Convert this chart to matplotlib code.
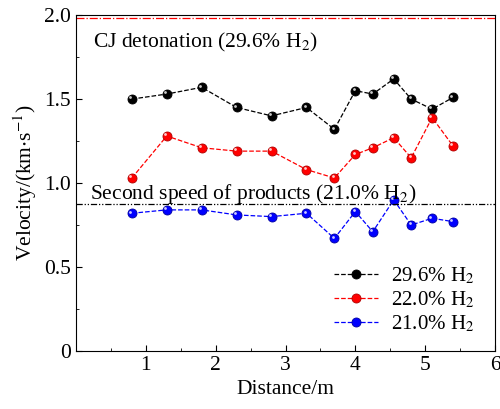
import matplotlib
matplotlib.use("Agg")
import matplotlib.pyplot as plt
from matplotlib.ticker import MultipleLocator
import matplotlib.transforms as mtransforms

plt.rcParams['font.family'] = 'Liberation Serif'
plt.rcParams['mathtext.fontset'] = 'stix'

distance = [0.8, 1.3, 1.8, 2.3, 2.8, 3.3, 3.7, 4.0, 4.25, 4.55, 4.8, 5.1, 5.4]
v_296 = [1.50, 1.53, 1.57, 1.45, 1.40, 1.45, 1.32, 1.55, 1.53, 1.62, 1.50, 1.44, 1.51]
v_220 = [1.03, 1.28, 1.21, 1.19, 1.19, 1.08, 1.03, 1.17, 1.21, 1.27, 1.15, 1.39, 1.22]
v_210 = [0.82, 0.84, 0.84, 0.81, 0.80, 0.82, 0.67, 0.83, 0.71, 0.90, 0.75, 0.79, 0.77]
cj_speed = 1.98
second_speed = 0.875

fig = plt.figure(figsize=(5, 4.09), dpi=100)
ax = fig.add_axes([0.152, 0.142, 0.838, 0.821])

series = [
    (v_296, 'black', '#000000', r'29.6% H$_2$'),
    (v_220, 'red', '#b00000', r'22.0% H$_2$'),
    (v_210, 'blue', '#0000a0', r'21.0% H$_2$'),
]
shine = mtransforms.offset_copy(ax.transData, fig=fig, x=-1.2, y=1.2, units='points')
for vals, col, edge, lab in series:
    ax.plot(distance, vals, '--', color=col, lw=0.9, marker='o', ms=6.5,
            mfc=col, mec=edge, mew=0.6, label=lab)
    ax.plot(distance, vals, ls='none', marker='o', ms=2, mfc='white',
            mec='none', alpha=0.8, transform=shine)

ax.axhline(cj_speed, color='red', ls='-.', lw=0.9)
ax.axhline(second_speed, color='black', ls=(0, (5, 1.5, 1, 1.5, 1, 1.5)), lw=0.9)

ax.text(0.25, 1.81, r'CJ detonation (29.6% H$_2$)', fontsize=15.5)
ax.text(0.2, 0.905, r'Second speed of products (21.0% H$_2$)', fontsize=15.5)

ax.set_xlim(0, 6)
ax.set_ylim(0, 2.0)
ax.xaxis.set_major_locator(MultipleLocator(1))
ax.xaxis.set_minor_locator(MultipleLocator(0.5))
ax.yaxis.set_major_locator(MultipleLocator(0.5))
ax.yaxis.set_minor_locator(MultipleLocator(0.25))
ax.set_xticks([1, 2, 3, 4, 5, 6])
ax.set_yticks([0, 0.5, 1.0, 1.5, 2.0])
ax.set_yticklabels(['0', '0.5', '1.0', '1.5', '2.0'])
ax.tick_params(which='both', direction='in', labelsize=15.5)
ax.tick_params(which='major', length=4)
ax.tick_params(which='minor', length=2)

ax.set_xlabel('Distance/m', fontsize=15.5)
ax.set_ylabel(r'Velocity/(km$\cdot$s$^{-1}$)', fontsize=15.5)

ax.legend(loc='lower right', bbox_to_anchor=(0.99, 0.0), frameon=False,
          fontsize=15, handlelength=2.1, labelspacing=0.15, borderpad=0.3,
          handletextpad=0.6)

fig.savefig('out.png', dpi=100)
